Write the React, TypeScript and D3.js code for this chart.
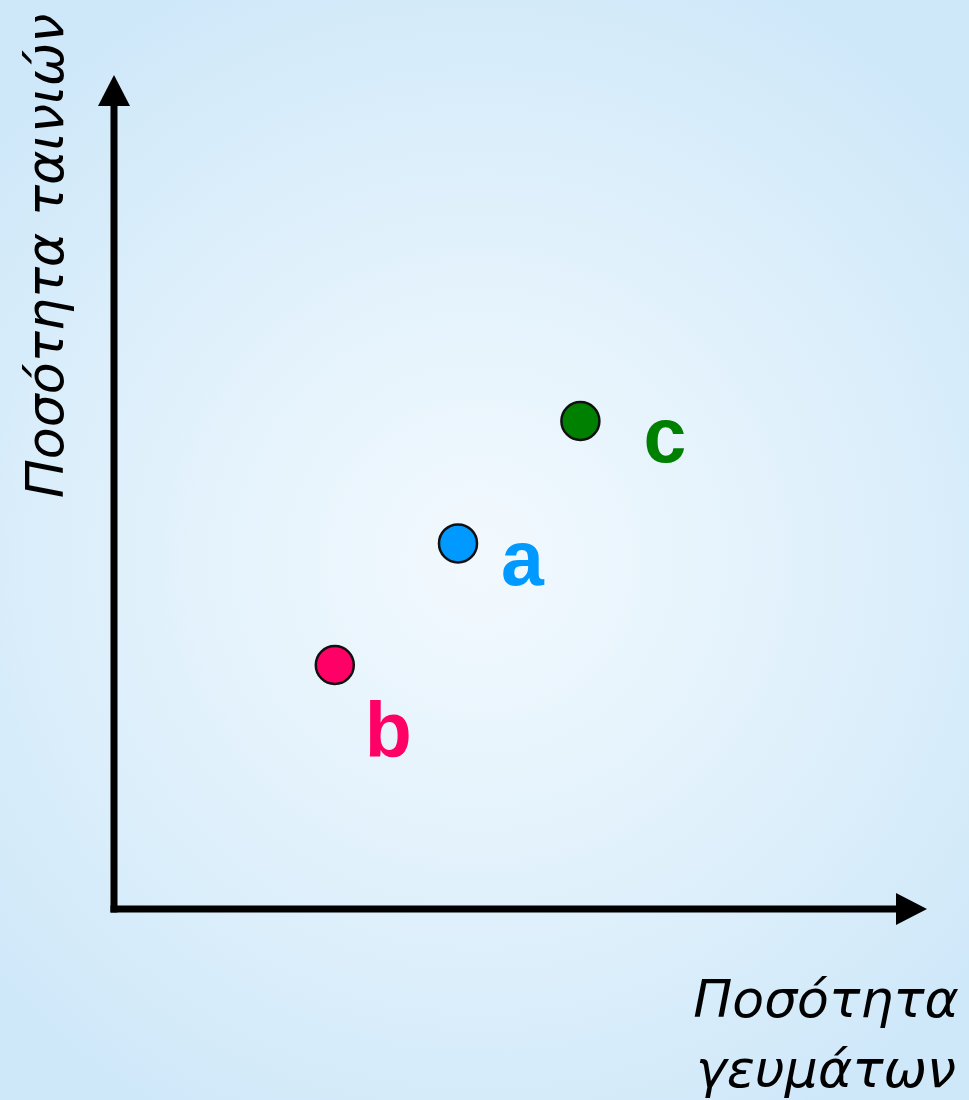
import React from "react";
import * as d3 from "d3";

const categories = ["a", "b", "c"];
const mealsValues = [4.3, 2.76, 5.83];
const moviesValues = [4.57, 3.05, 6.1];
const colors = ["#0099ff", "#ff0066", "#008000"];
const yLabel = "Ποσότητα ταινιών";
const xLabelLines = ["Ποσότητα", "γευμάτων"];

const W = 969;
const H = 1100;

export default function App() {
  const x = d3.scaleLinear().domain([0, 10]).range([114, 914]);
  const y = d3.scaleLinear().domain([0, 10]).range([909, 109]);
  const labelOffsets: Record<string, [number, number]> = {
    a: [43, 42],
    b: [30, 92],
    c: [63, 41],
  };
  const x0 = x(0);
  const y0 = y(0);
  const xEnd = 927;
  const yEnd = 75;
  const head = 31;
  const hw = 16;
  const font = "'DejaVu Sans', Verdana, sans-serif";
  return (
    <svg
      width={W}
      height={H}
      style={{ position: "absolute", left: 0, top: 0 }}
      xmlns="http://www.w3.org/2000/svg"
    >
      <defs>
        <radialGradient id="bg" cx="480" cy="560" r="640" gradientUnits="userSpaceOnUse">
          <stop offset="0" stopColor="#f2f9fe" />
          <stop offset="0.4" stopColor="#e5f3fc" />
          <stop offset="1" stopColor="#cfe8f9" />
        </radialGradient>
      </defs>
      <rect x={0} y={0} width={W} height={H} fill="url(#bg)" />
      {/* axes */}
      <line x1={x0} y1={y0 + 3.5} x2={x0} y2={yEnd + head - 2} stroke="#000" strokeWidth={7} />
      <line x1={x0 - 3.5} y1={y0} x2={xEnd - head + 2} y2={y0} stroke="#000" strokeWidth={7} />
      <polygon
        points={`${x0},${yEnd} ${x0 - hw},${yEnd + head} ${x0 + hw},${yEnd + head}`}
        fill="#000"
      />
      <polygon
        points={`${xEnd},${y0} ${xEnd - head},${y0 - hw} ${xEnd - head},${y0 + hw}`}
        fill="#000"
      />
      {/* points */}
      {categories.map((c, i) => (
        <circle
          key={c}
          cx={x(mealsValues[i])}
          cy={y(moviesValues[i])}
          r={19}
          fill={colors[i]}
          stroke="#111"
          strokeWidth={2.5}
        />
      ))}
      {categories.map((c, i) => (
        <text
          key={"l" + c}
          x={x(mealsValues[i]) + labelOffsets[c][0]}
          y={y(moviesValues[i]) + labelOffsets[c][1]}
          fill={colors[i]}
          fontFamily="'Liberation Sans', Arial, sans-serif"
          fontWeight="bold"
          fontSize={77}
        >
          {c}
        </text>
      ))}
      {/* y label */}
      <text
        transform="translate(63,256) rotate(-90)"
        textAnchor="middle"
        fontFamily={font}
        fontStyle="italic"
        fontSize={52}
        fill="#000"
      >
        {yLabel}
      </text>
      {/* x label */}
      {xLabelLines.map((t, i) => (
        <text
          key={t}
          x={826}
          y={1017 + i * 70}
          textAnchor="middle"
          fontFamily={font}
          fontStyle="italic"
          fontSize={52}
          fill="#000"
        >
          {t}
        </text>
      ))}
    </svg>
  );
}
